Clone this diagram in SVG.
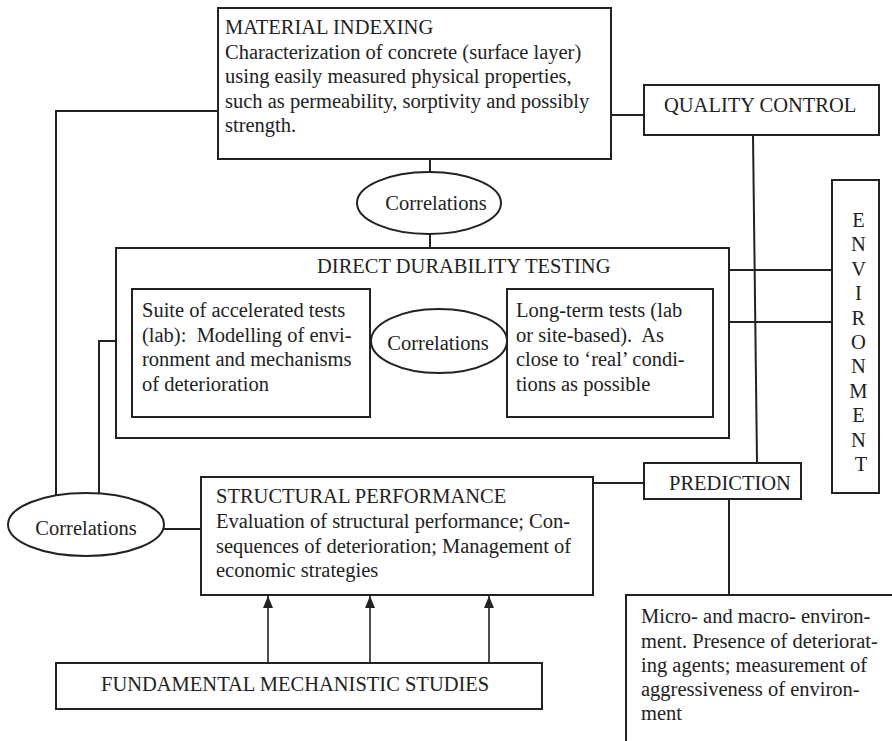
<svg xmlns="http://www.w3.org/2000/svg" width="892" height="741" viewBox="0 0 892 741">
<style>
  .box { fill: #fff; stroke: #222; stroke-width: 2; }
  .ln { fill: none; stroke: #222; stroke-width: 2; }
  .arr { fill: none; stroke: #222; stroke-width: 1.6; marker-end: url(#ah); }
  text { font-family: "Liberation Serif", "Times New Roman", serif; font-size: 20.5px; fill: #222; }
</style>
<defs>
  <marker id="ah" markerWidth="12" markerHeight="10" refX="12" refY="5" orient="auto" markerUnits="userSpaceOnUse" viewBox="0 0 12 10">
    <path d="M0,0 L12,5 L0,10 Z" fill="#222"/>
  </marker>
</defs>
<rect width="892" height="741" fill="#fff"/>

<g id="connectors">
  <polyline class="ln" points="218,111 56,111 56,495"/>
  <line class="ln" x1="611" y1="115" x2="644" y2="115"/>
  <line class="ln" x1="753" y1="135" x2="757" y2="462"/>
  <line class="ln" x1="430" y1="159" x2="430" y2="172"/>
  <line class="ln" x1="430" y1="234" x2="430" y2="248"/>
  <line class="ln" x1="729" y1="270" x2="832" y2="270"/>
  <line class="ln" x1="729" y1="322" x2="832" y2="322"/>
  <polyline class="ln" points="116,341 99,341 99,493"/>
  <line class="ln" x1="164" y1="529" x2="201" y2="529"/>
  <line class="ln" x1="593" y1="483" x2="644" y2="483"/>
  <line class="ln" x1="729" y1="499" x2="729" y2="595"/>
  <line class="arr" x1="268" y1="663" x2="268" y2="596"/>
  <line class="arr" x1="370" y1="663" x2="370" y2="596"/>
  <line class="arr" x1="489" y1="663" x2="489" y2="596"/>
</g>

<g id="material-indexing">
  <rect class="box" x="218" y="8" width="393" height="151"/>
  <text x="225" y="34">MATERIAL INDEXING</text>
  <text x="225" y="58.5">Characterization of concrete (surface layer)</text>
  <text x="225" y="83">using easily measured physical properties,</text>
  <text x="225" y="107.5">such as permeability, sorptivity and possibly</text>
  <text x="225" y="132">strength.</text>
</g>

<g id="quality-control">
  <rect class="box" x="644" y="85" width="235" height="50"/>
  <text x="664" y="112">QUALITY CONTROL</text>
</g>

<g id="correlations-top">
  <ellipse class="box" cx="429" cy="203" rx="72" ry="31"/>
  <text x="436" y="210" text-anchor="middle">Correlations</text>
</g>

<g id="environment">
  <rect class="box" x="832" y="180" width="47" height="313"/>
  <text x="861" text-anchor="middle">
    <tspan x="861" y="227">E</tspan>
    <tspan x="861" y="251.4">N</tspan>
    <tspan x="861" y="275.8">V</tspan>
    <tspan x="861" y="300.2">I</tspan>
    <tspan x="861" y="324.6">R</tspan>
    <tspan x="861" y="349">O</tspan>
    <tspan x="861" y="373.4">N</tspan>
    <tspan x="861" y="397.8">M</tspan>
    <tspan x="861" y="422.2">E</tspan>
    <tspan x="861" y="446.6">N</tspan>
    <tspan x="861" y="471">T</tspan>
  </text>
</g>

<g id="direct-durability-testing">
  <rect class="box" x="116" y="248" width="613" height="190"/>
  <text x="317" y="273">DIRECT DURABILITY TESTING</text>
</g>

<g id="accelerated-tests">
  <rect class="box" x="132" y="289" width="238" height="128"/>
  <text x="142" y="317">Suite of accelerated tests</text>
  <text x="142" y="341.5" xml:space="preserve">(lab):  Modelling of envi-</text>
  <text x="142" y="366">ronment and mechanisms</text>
  <text x="142" y="390.5">of deterioration</text>
</g>

<g id="correlations-middle">
  <ellipse class="box" cx="439" cy="341" rx="68" ry="32"/>
  <text x="438" y="350" text-anchor="middle">Correlations</text>
</g>

<g id="long-term-tests">
  <rect class="box" x="507" y="289" width="206" height="128"/>
  <text x="516" y="317">Long-term tests (lab</text>
  <text x="516" y="341.5" xml:space="preserve">or site-based).  As</text>
  <text x="516" y="366">close to ‘real’ condi-</text>
  <text x="516" y="390.5">tions as possible</text>
</g>

<g id="prediction">
  <rect class="box" x="644" y="463" width="157" height="36"/>
  <text x="669" y="490">PREDICTION</text>
</g>

<g id="correlations-left">
  <ellipse class="box" cx="86" cy="524.5" rx="78" ry="31.5"/>
  <text x="86" y="535" text-anchor="middle">Correlations</text>
</g>

<g id="structural-performance">
  <rect class="box" x="201" y="477" width="392" height="118"/>
  <text x="216" y="503">STRUCTURAL PERFORMANCE</text>
  <text x="216" y="528">Evaluation of structural performance; Con-</text>
  <text x="216" y="553">sequences of deterioration; Management of</text>
  <text x="216" y="577">economic strategies</text>
</g>

<g id="environment-details">
  <rect class="box" x="626" y="595" width="300" height="180"/>
  <text x="641" y="623">Micro- and macro- environ-</text>
  <text x="641" y="647.5">ment. Presence of deteriorat-</text>
  <text x="641" y="672">ing agents; measurement of</text>
  <text x="641" y="696">aggressiveness of environ-</text>
  <text x="641" y="720">ment</text>
</g>

<g id="fundamental-studies">
  <rect class="box" x="56" y="663" width="486" height="46"/>
  <text x="101" y="691">FUNDAMENTAL MECHANISTIC STUDIES</text>
</g>
</svg>
